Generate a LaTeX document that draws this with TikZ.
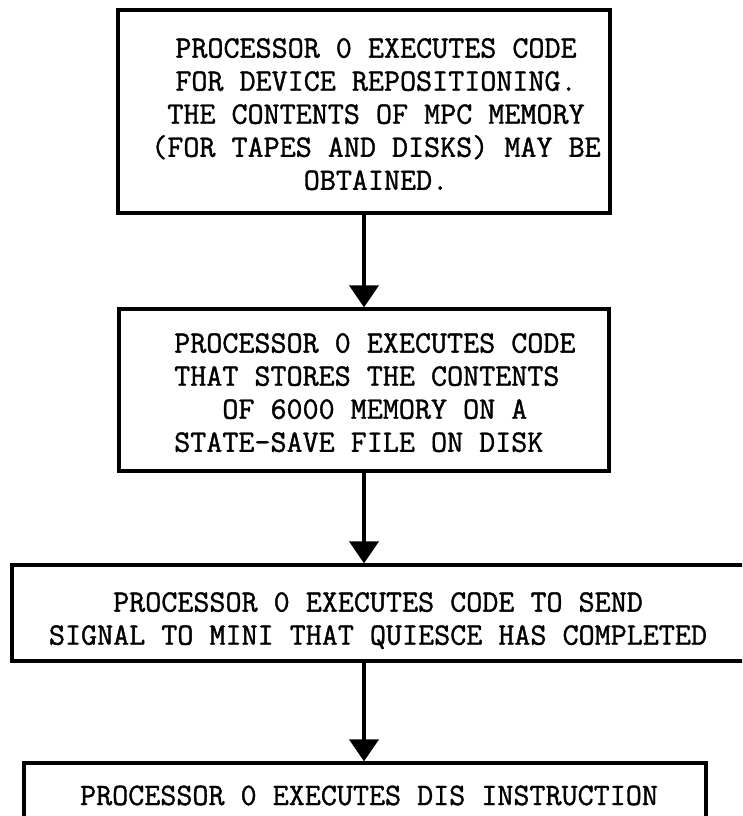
\documentclass[tikz,border=0pt]{standalone}
\usepackage{fontspec}
\newfontfamily\typerfont{Latin Modern Mono}[FakeBold=1.2]
\usetikzlibrary{arrows.meta}
\begin{document}
\begin{tikzpicture}[x=0.03cm, y=-0.03cm,
    box/.style = {draw, line width=2.8pt, inner sep=0pt},
    txt/.style = {inner sep=0pt, font=\fontsize{26.6}{28.2}\selectfont\typerfont},
    flow/.style = {line width=3.4pt, -{Triangle[length=0.66cm, width=0.87cm]}}]
  \useasboundingbox (0,0) rectangle (742,816);
  \clip (0,0) rectangle (742,816);
  % boxes
  \node[box, minimum width=14.76cm, minimum height=6.09cm] (b1) at (364,111.5) {};
  \node[box, minimum width=14.7cm, minimum height=4.86cm] (b2) at (364,390) {};
  \node[box, minimum width=22.2cm, minimum height=2.88cm] (b3) at (382,613) {};
  \node[box, minimum width=20.46cm, minimum height=2.82cm] (b4) at (365,810) {};
  % texts
  \node[txt, align=center, anchor=north] (t1) at (376,38)
    {PROCESSOR 0 EXECUTES CODE\\FOR DEVICE REPOSITIONING.\\THE CONTENTS OF MPC MEMORY\\(FOR TAPES AND DISKS) MAY BE\\OBTAINED.};
  \node[txt, align=left, anchor=north west] (t2) at (174,333)
    {PROCESSOR 0 EXECUTES CODE\\THAT STORES THE CONTENTS\\\phantom{OOO}OF 6000 MEMORY ON A\\STATE-SAVE FILE ON DISK};
  \node[txt, align=center, anchor=north] (t3) at (378,592)
    {PROCESSOR 0 EXECUTES CODE TO SEND\\SIGNAL TO MINI THAT QUIESCE HAS COMPLETED};
  \node[txt, anchor=base] (t4) at (369,805) {PROCESSOR 0 EXECUTES DIS INSTRUCTION};
  % arrows
  \draw[flow] (b1) -- (b2);
  \draw[flow] (b2.south) -- (b2.south |- b3.north);
  \draw[flow] (b3.south -| b1.south) -- (b4.north -| b1.south);
\end{tikzpicture}
\end{document}
